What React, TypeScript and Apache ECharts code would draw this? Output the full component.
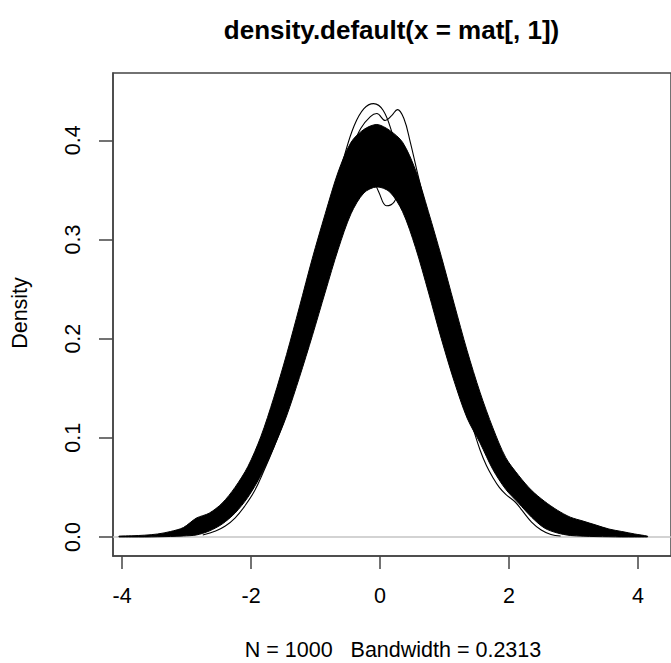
import React, { useEffect, useRef } from "react";
import * as echarts from "echarts";

// ---- data ----
const gridX = [
  -4.05, -3.85, -3.65, -3.45, -3.25, -3.05, -2.85, -2.65, -2.45, -2.25, -2.05,
  -1.85, -1.65, -1.45, -1.25, -1.05, -0.85, -0.65, -0.45, -0.25, -0.05, 0.15,
  0.35, 0.55, 0.75, 0.95, 1.15, 1.35, 1.55, 1.75, 1.95, 2.15, 2.35, 2.55, 2.75,
  2.95, 3.15, 3.35, 3.55, 3.75, 3.95, 4.15,
];
// highest of the ~100 density curves at each x
const upperEnvelope = [
  0.0008, 0.0012, 0.0018, 0.003, 0.0055, 0.0095, 0.019, 0.024, 0.034, 0.05, 0.071,
  0.101, 0.14, 0.184, 0.232, 0.281, 0.326, 0.368, 0.398, 0.411, 0.416, 0.41,
  0.398, 0.37, 0.328, 0.283, 0.235, 0.188, 0.146, 0.11, 0.08, 0.062, 0.047, 0.036, 0.027,
  0.02, 0.016, 0.012, 0.008, 0.0055, 0.003, 0.0008,
];
// lowest of the density curves at each x
const lowerEnvelope = [
  0, 0, 0, 0.0002, 0.0005, 0.001, 0.002, 0.006, 0.013, 0.024, 0.04,
  0.062, 0.09, 0.122, 0.161, 0.203, 0.247, 0.29, 0.326, 0.347, 0.353, 0.348,
  0.328, 0.292, 0.247, 0.2, 0.157, 0.12, 0.095, 0.068, 0.048, 0.034, 0.02, 0.009, 0.004,
  0.0015, 0.0008, 0.0004, 0.0002, 0, 0, 0,
];
// individual curves that stand out of the band
const tallCurveX = [-0.85, -0.7, -0.55, -0.4, -0.25, -0.1, 0.05, 0.2, 0.35];
const tallCurveY = [0.3, 0.345, 0.385, 0.415, 0.432, 0.437, 0.43, 0.405, 0.375];
const twinPeakX = [-0.6, -0.45, -0.3, -0.15, -0.05, 0.08, 0.18, 0.27, 0.37, 0.47, 0.57, 0.7];
const twinPeakY = [0.36, 0.39, 0.412, 0.424, 0.427, 0.42, 0.425, 0.431, 0.422, 0.398, 0.37, 0.335];
const dipCurveX = [-0.55, -0.4, -0.28, -0.15, -0.02, 0.1, 0.22, 0.34, 0.46, 0.6];
const dipCurveY = [0.34, 0.365, 0.372, 0.366, 0.348, 0.334, 0.338, 0.355, 0.362, 0.34];
const leftInnerX = [-2.75, -2.55, -2.4, -2.25, -2.1, -1.95, -1.8, -1.65, -1.5];
const leftInnerY = [0.002, 0.006, 0.011, 0.019, 0.031, 0.046, 0.067, 0.09, 0.115];
const rightInnerX = [1.35, 1.45, 1.55, 1.65, 1.75, 1.85, 1.95, 2.1, 2.2, 2.35, 2.5, 2.65, 2.8];
const rightInnerY = [0.13, 0.108, 0.088, 0.072, 0.06, 0.05, 0.043, 0.035, 0.027, 0.015, 0.007, 0.0025, 0.001];

const xTicks = [-4, -2, 0, 2, 4];
const yTicks = [0, 0.1, 0.2, 0.3, 0.4];
const titleText = "density.default(x = mat[, 1])";
const xLabelText = "N = 1000   Bandwidth = 0.2313";
const yLabelText = "Density";

const X_MIN = -4.142;
const X_MAX = 4.513;
const Y_MIN = -0.0192;
const Y_MAX = 0.4679;
const FONT = "'Liberation Sans', Arial, Helvetica, sans-serif";

export default function App() {
  const ref = useRef<HTMLDivElement>(null);
  useEffect(() => {
    const chart = echarts.init(ref.current!, null, { renderer: "svg" });
    const pairs = (xs: number[], ys: number[]) => xs.map((x, i) => [x, ys[i]]);
    const thin = (name: string, xs: number[], ys: number[]) => ({
      type: "line",
      name,
      data: pairs(xs, ys),
      symbol: "none",
      showSymbol: false,
      smooth: 0.4,
      lineStyle: { color: "#000", width: 1.1 },
      silent: true,
      z: 5,
    });
    const axisColor = "#444";
    const textStyle = (size: number, weight: string) => ({
      fontSize: size,
      fontWeight: weight,
      fontFamily: FONT,
      fill: "#000",
      textAlign: "center",
      textVerticalAlign: "middle",
      align: "center",
      verticalAlign: "middle",
    });
    chart.setOption({
      animation: false,
      backgroundColor: "#fff",
      grid: {
        left: 113,
        top: 73,
        right: -2,
        bottom: 107,
        show: true,
        borderColor: axisColor,
        borderWidth: 1.5,
        backgroundColor: "transparent",
      },
      xAxis: {
        type: "value",
        min: X_MIN,
        max: X_MAX,
        splitLine: { show: false },
        axisLine: { show: true, onZero: false, lineStyle: { color: axisColor, width: 1.5 } },
        axisTick: { show: true, customValues: xTicks, length: 13, lineStyle: { color: axisColor, width: 1.5 } },
        axisLabel: {
          customValues: xTicks,
          margin: 29,
          fontSize: 21.5,
          color: "#000",
          fontFamily: FONT,
          formatter: (v: number) => String(v),
        },
      },
      yAxis: {
        type: "value",
        min: Y_MIN,
        max: Y_MAX,
        splitLine: { show: false },
        axisLine: { show: true, onZero: false, lineStyle: { color: axisColor, width: 1.5 } },
        axisTick: { show: true, customValues: yTicks, length: 14, lineStyle: { color: axisColor, width: 1.5 } },
        axisLabel: {
          customValues: yTicks,
          rotate: 90,
          margin: 29,
          fontSize: 21.5,
          color: "#000",
          fontFamily: FONT,
          formatter: (v: number) => v.toFixed(1),
        },
      },
      graphic: [
        { type: "text", x: 391.5, y: 30, style: { text: titleText, ...textStyle(26, "bold") } },
        { type: "text", x: 393, y: 650, style: { text: xLabelText, ...textStyle(21.5, "normal") } },
        {
          type: "text",
          x: 20,
          y: 313,
          rotation: Math.PI / 2,
          style: { text: yLabelText, ...textStyle(21.5, "normal") },
        },
      ],
      series: [
        {
          type: "line",
          name: "zero",
          data: [
            [X_MIN, 0],
            [X_MAX, 0],
          ],
          symbol: "none",
          lineStyle: { color: "#c4c4c4", width: 1.5 },
          silent: true,
          z: 1,
        },
        {
          type: "custom",
          name: "band",
          data: [[0, 0]],
          silent: true,
          z: 3,
          renderItem: (_params: any, api: any) => {
            const top = gridX.map((x, i) => api.coord([x, upperEnvelope[i]]));
            const bottom = gridX.map((x, i) => api.coord([x, lowerEnvelope[i]])).reverse();
            const pts = top.concat(bottom);
            const xsPx = pts.map((p: number[]) => p[0]);
            const ysPx = pts.map((p: number[]) => p[1]);
            const constraint = [
              [Math.min(...xsPx), Math.min(...ysPx)],
              [Math.max(...xsPx), Math.max(...ysPx)],
            ];
            return {
              type: "polygon",
              shape: { points: pts, smooth: 0.3, smoothConstraint: constraint },
              style: { fill: "#000", stroke: "#000", lineWidth: 1 },
            };
          },
        },
        thin("tall", tallCurveX, tallCurveY),
        thin("twin", twinPeakX, twinPeakY),
        thin("dip", dipCurveX, dipCurveY),
        thin("leftInner", leftInnerX, leftInnerY),
        thin("rightInner", rightInnerX, rightInnerY),
      ],
    });
    return () => chart.dispose();
  }, []);
  return (
    <div
      ref={ref}
      style={{ position: "fixed", left: 0, top: 0, width: 671, height: 663, background: "#fff" }}
    />
  );
}
